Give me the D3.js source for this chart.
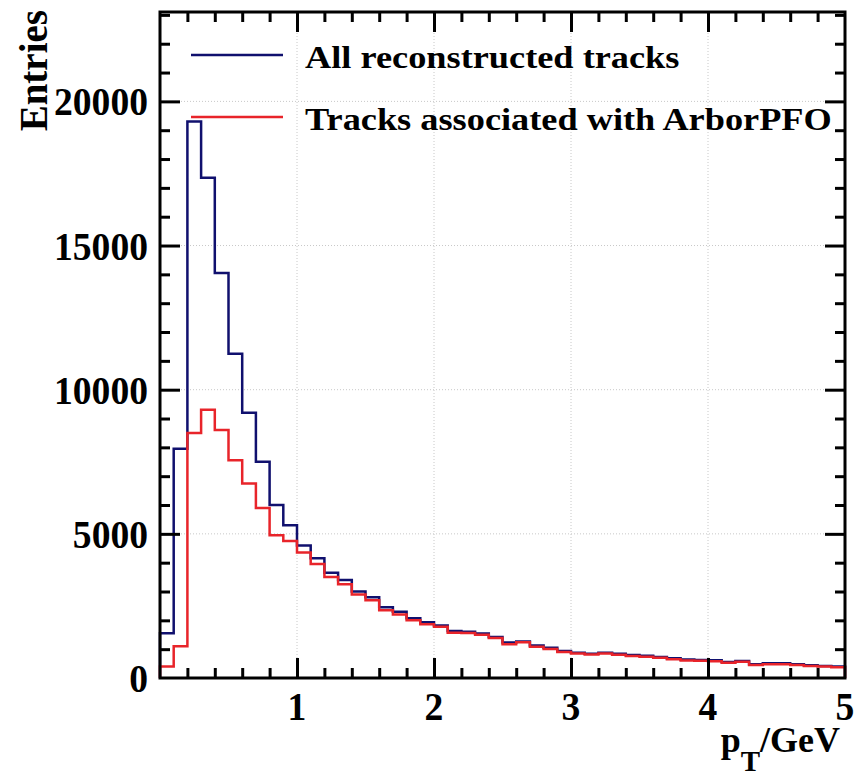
<!DOCTYPE html>
<html>
<head>
<meta charset="utf-8">
<script src="https://cdn.jsdelivr.net/npm/d3@7"></script>
<style>
  body { margin: 0; background: #fff; }
  text { font-family: "Liberation Serif", "DejaVu Serif", serif; font-weight: bold; fill: #000; }
</style>
</head>
<body>
<svg id="chart" width="861" height="778"></svg>
<script>
// DATA
var binEdges = [0, 0.1, 0.2, 0.3, 0.4, 0.5, 0.6, 0.7, 0.8, 0.9, 1.0,
                1.1, 1.2, 1.3, 1.4, 1.5, 1.6, 1.7, 1.8, 1.9, 2.0,
                2.1, 2.2, 2.3, 2.4, 2.5, 2.6, 2.7, 2.8, 2.9, 3.0,
                3.1, 3.2, 3.3, 3.4, 3.5, 3.6, 3.7, 3.8, 3.9, 4.0,
                4.1, 4.2, 4.3, 4.4, 4.5, 4.6, 4.7, 4.8, 4.9, 5.0];

var allTracks = [1550, 7950, 19300, 17350, 14050, 11250, 9200, 7500, 6000, 5300,
                 4600, 4150, 3650, 3400, 3000, 2800, 2450, 2300, 2070, 1930,
                 1820, 1630, 1600, 1540, 1420, 1230, 1270, 1130, 1050, 940,
                 880, 845, 880, 845, 800, 775, 730, 685, 640, 625,
                 615, 555, 590, 475, 510, 510, 475, 440, 415, 395];

var arborTracks = [400, 1100, 8500, 9300, 8600, 7550, 6750, 5900, 4950, 4750,
                   4350, 3950, 3500, 3250, 2900, 2700, 2350, 2200, 2000, 1860,
                   1780, 1570, 1560, 1500, 1390, 1170, 1240, 1080, 1010, 900,
                   850, 815, 850, 810, 760, 740, 700, 650, 610, 595,
                   580, 525, 560, 450, 480, 480, 450, 415, 395, 375];

var seriesNames = ['All reconstructed tracks', 'Tracks associated with ArborPFO'];
var xTickLabels = [1, 2, 3, 4, 5];
var yTickLabels = [0, 5000, 10000, 15000, 20000];

// LAYOUT
var svg = d3.select('#chart');
var L = 160, R = 845, T = 12, B = 678;

var x = d3.scaleLinear().domain([0, 5]).range([L, R]);
var y = d3.scaleLinear().domain([0, 23100]).range([B, T]);

// Grid (dotted)
var grid = svg.append('g').attr('class', 'grid');
grid.selectAll('line.gx')
    .data([1, 2, 3, 4])
    .enter().append('line')
    .attr('x1', function(d) { return x(d); }).attr('x2', function(d) { return x(d); })
    .attr('y1', T).attr('y2', B)
    .style('stroke', '#c8c8c8').style('stroke-width', 1).style('stroke-dasharray', '1,2');
grid.selectAll('line.gy')
    .data([5000, 10000, 15000, 20000])
    .enter().append('line')
    .attr('y1', function(d) { return y(d); }).attr('y2', function(d) { return y(d); })
    .attr('x1', L).attr('x2', R)
    .style('stroke', '#c8c8c8').style('stroke-width', 1).style('stroke-dasharray', '1,2');

// Histograms as step outlines
function stepPoints(values) {
    var pts = [[binEdges[0], 0]];
    values.forEach(function(v, i) {
        pts.push([binEdges[i], v]);
        pts.push([binEdges[i + 1], v]);
    });
    pts.push([binEdges[binEdges.length - 1], 0]);
    return pts;
}
var lineGen = d3.line()
    .x(function(d) { return x(d[0]); })
    .y(function(d) { return y(d[1]); });

svg.append('path')
    .attr('d', lineGen(stepPoints(allTracks)))
    .style('fill', 'none').style('stroke', '#10106e').style('stroke-width', '2.5px');
svg.append('path')
    .attr('d', lineGen(stepPoints(arborTracks)))
    .style('fill', 'none').style('stroke', '#e8242a').style('stroke-width', '2.5px');

// Ticks (ROOT style: inside, on all four sides)
var ticks = svg.append('g');
var xMinor = d3.range(0.2, 5, 0.2).filter(function(d) { return Math.abs(d - Math.round(d)) > 1e-6; });
var yMinor = d3.range(1000, 23001, 1000).filter(function(d) { return d % 5000 !== 0; });

ticks.append('g').attr('transform', 'translate(0,' + B + ')')
    .call(d3.axisTop(x).tickValues([1, 2, 3, 4]).tickSize(20).tickFormat(''));
ticks.append('g').attr('transform', 'translate(0,' + B + ')')
    .call(d3.axisTop(x).tickValues(xMinor).tickSize(10).tickFormat(''));
ticks.append('g').attr('transform', 'translate(0,' + T + ')')
    .call(d3.axisBottom(x).tickValues([1, 2, 3, 4]).tickSize(20).tickFormat(''));
ticks.append('g').attr('transform', 'translate(0,' + T + ')')
    .call(d3.axisBottom(x).tickValues(xMinor).tickSize(10).tickFormat(''));
ticks.append('g').attr('transform', 'translate(' + L + ',0)')
    .call(d3.axisRight(y).tickValues([5000, 10000, 15000, 20000]).tickSize(20).tickFormat(''));
ticks.append('g').attr('transform', 'translate(' + L + ',0)')
    .call(d3.axisRight(y).tickValues(yMinor).tickSize(10).tickFormat(''));
ticks.append('g').attr('transform', 'translate(' + R + ',0)')
    .call(d3.axisLeft(y).tickValues([5000, 10000, 15000, 20000]).tickSize(20).tickFormat(''));
ticks.append('g').attr('transform', 'translate(' + R + ',0)')
    .call(d3.axisLeft(y).tickValues(yMinor).tickSize(10).tickFormat(''));
ticks.selectAll('.domain').remove();
ticks.selectAll('line').style('stroke', '#000').style('stroke-width', 3);

// Frame
svg.append('rect')
    .attr('x', L).attr('y', T).attr('width', R - L).attr('height', B - T)
    .style('fill', 'none').style('stroke', '#000').style('stroke-width', 3);

// Tick labels (slightly condensed, like the original)
svg.selectAll('text.xl')
    .data(xTickLabels)
    .enter().append('text')
    .attr('transform', function(d) { return 'translate(' + x(d) + ',720) scale(0.94,1)'; })
    .attr('text-anchor', 'middle')
    .style('font-size', '40px')
    .text(function(d) { return d; });
svg.selectAll('text.yl')
    .data(yTickLabels)
    .enter().append('text')
    .attr('transform', function(d) { return 'translate(148,' + (y(d) + 14) + ') scale(0.94,1)'; })
    .attr('text-anchor', 'end')
    .style('font-size', '40px')
    .text(function(d) { return d; });

// Axis titles
svg.append('text')
    .attr('transform', 'translate(47,10) rotate(-90)')
    .attr('text-anchor', 'end')
    .style('font-size', '39px')
    .text('Entries');
var xt = svg.append('text')
    .attr('x', 840).attr('y', 752)
    .attr('text-anchor', 'end')
    .style('font-size', '36px');
xt.append('tspan').text('p');
xt.append('tspan').attr('dy', 19).style('font-size', '29px').text('T');
xt.append('tspan').attr('dy', -19).text('/GeV');

// Legend
var legColors = ['#10106e', '#e8242a'];
var legY = [55, 117];
var leg = svg.append('g');
leg.selectAll('line')
    .data(seriesNames)
    .enter().append('line')
    .attr('x1', 191).attr('x2', 283)
    .attr('y1', function(d, i) { return legY[i]; })
    .attr('y2', function(d, i) { return legY[i]; })
    .style('stroke', function(d, i) { return legColors[i]; })
    .style('stroke-width', 2.5);
leg.selectAll('text')
    .data(seriesNames)
    .enter().append('text')
    .attr('transform', function(d, i) { return 'translate(305,' + (legY[i] + 13) + ') scale(1.135,1)'; })
    .style('font-size', '32px')
    .text(function(d) { return d; });
</script>
</body>
</html>
